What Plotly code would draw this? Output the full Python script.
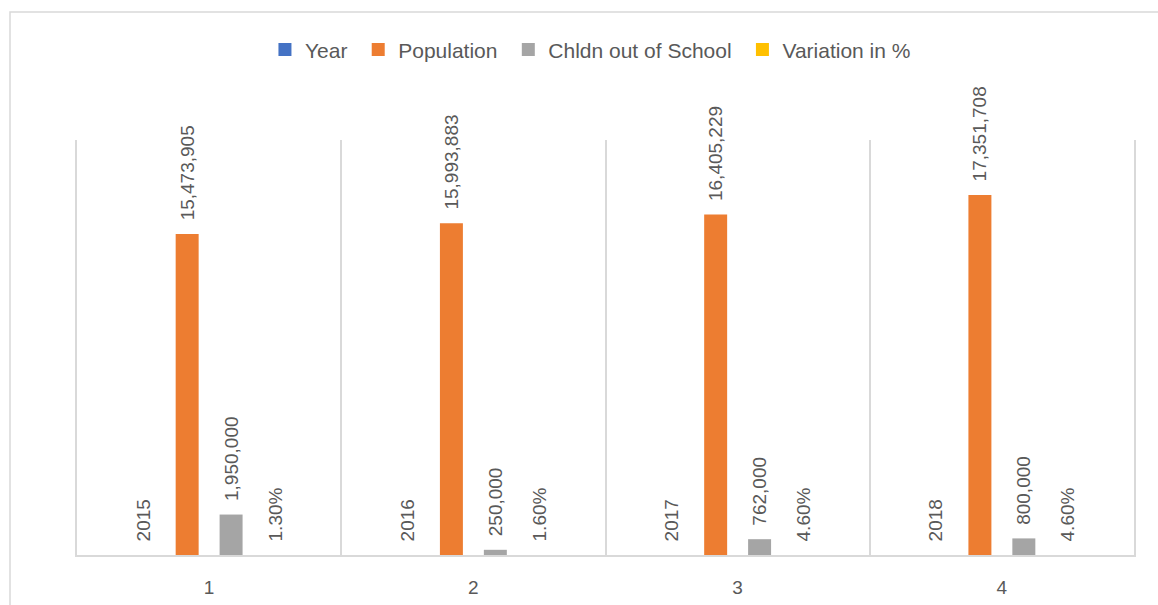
import plotly.graph_objects as go

categories = ["1", "2", "3", "4"]
year = [2015, 2016, 2017, 2018]
population = [15473905, 15993883, 16405229, 17351708]
children_out = [1950000, 250000, 762000, 800000]
variation = [0.013, 0.016, 0.046, 0.046]

colors = {"Year": "#4472C4", "Population": "#ED7D31",
          "Chldn out of School": "#A5A5A5", "Variation in %": "#FFC000"}

FONT = "Liberation Sans, Arial, sans-serif"
TXT = "#595959"
PAD = "\u00a0\u00a0"
NB = "\u00a0"
label_font = dict(family=FONT, size=19, color=TXT)

series = [
    ("Year", year, [PAD + f"{v}" for v in year]),
    ("Population", population, [PAD + f"{v:,}" for v in population]),
    ("Chldn out of School", children_out, [PAD + f"{v:,}" for v in children_out]),
    ("Variation in %", variation, [PAD + f"{v*100:.2f}%" for v in variation]),
]

fig = go.Figure()
for name, vals, txt in series:
    # The Year values are negligible on this scale, so the bar is effectively invisible
    bar_color = "rgba(0,0,0,0)" if name == "Year" else colors[name]
    fig.add_trace(go.Bar(
        name=name, x=categories, y=vals, text=txt,
        textposition="outside", textangle=-90, constraintext="none",
        cliponaxis=False, outsidetextfont=label_font,
        marker=dict(color=bar_color, line=dict(width=0)),
        hoverinfo="skip", showlegend=False,
    ))

# legend entries
for name, _, _ in series:
    fig.add_trace(go.Scatter(
        x=[None], y=[None], mode="markers", name=name + NB,
        marker=dict(symbol="square", size=13, color=colors[name], line=dict(width=0)),
        showlegend=True, hoverinfo="skip",
    ))

fig.update_layout(
    width=1158, height=605,
    margin=dict(l=77, r=24, t=140, b=50, autoexpand=False),
    paper_bgcolor="white", plot_bgcolor="white",
    barmode="group", bargap=0.335, bargroupgap=0.477,
    font=dict(family=FONT, color=TXT),
    showlegend=True,
    legend=dict(orientation="h", x=0.4886, xanchor="center", y=1.217, yanchor="middle",
                font=dict(size=21, color=TXT), itemwidth=30,
                bgcolor="rgba(0,0,0,0)"),
    xaxis=dict(type="category", tickson="boundaries", showgrid=True,
               gridcolor="#d9d9d9", gridwidth=1.5, ticks="", automargin=False,
               showline=True, linecolor="#d9d9d9", linewidth=2,
               tickfont=dict(size=19, color=TXT), ticklabelstandoff=14),
    yaxis=dict(range=[0, 20000000], showgrid=False, showticklabels=False,
               zeroline=False, showline=True, mirror=True, automargin=False,
               linecolor="#d9d9d9", linewidth=1.5, ticks=""),
    shapes=[dict(type="rect", xref="paper", yref="paper",
                 x0=(10 - 77) / 1057, x1=(1175 - 77) / 1057,
                 y0=(555 - 620) / 415, y1=(555 - 12) / 415,
                 line=dict(color="#d9d9d9", width=1.5), fillcolor="rgba(0,0,0,0)",
                 layer="below")],
)

fig.write_html("out.html")
